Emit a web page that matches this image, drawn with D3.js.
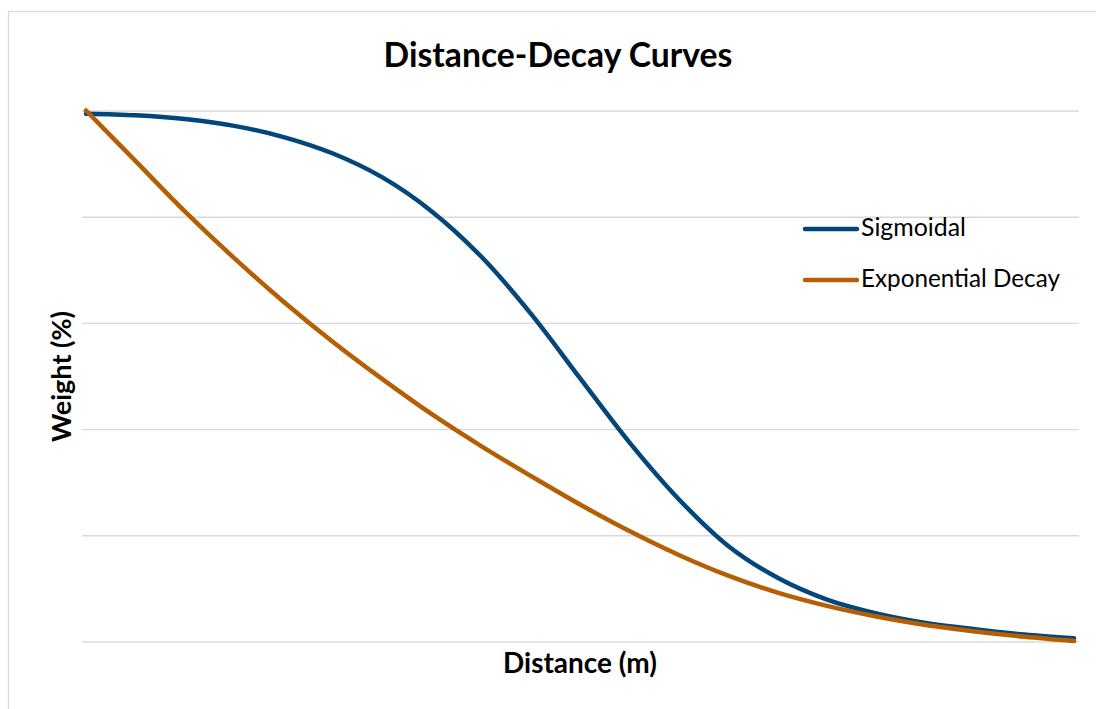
<!DOCTYPE html>
<html>
<head>
<meta charset="utf-8">
<script src="https://cdn.jsdelivr.net/npm/d3@7"></script>
<style>
  html, body { margin: 0; padding: 0; background: #fff; }
  svg { display: block; }
  text { font-family: Lato, "Open Sans", sans-serif; fill: #000; }
</style>
</head>
<body>
<svg id="chart" width="1096" height="709"></svg>
<script>
// ---- data ----
const distances = [0,5,10,15,20,25,30,35,40,45,50,55,60,65,70,75,80,85,90,95,100];
const sigmoidal = [99.4,99.1,98.4,97.1,95.0,91.9,87.4,81.0,72.5,61.8,49.6,37.5,26.8,18.0,12.0,7.9,5.3,3.5,2.3,1.3,0.6];
const exponentialDecay = [100,90.5,81.0,72.2,64.0,56.4,49.4,42.8,36.8,31.2,25.8,20.8,16.3,12.4,9.2,6.7,4.7,3.1,1.9,0.9,0.1];
const yTicks = [0,20,40,60,80,100];
const seriesNames = ["Sigmoidal", "Exponential Decay"];
const seriesColors = ["#03467a", "#b55e04"];
const titleText = "Distance-Decay Curves";
const xTitle = "Distance (m)";
const yTitle = "Weight (%)";

// ---- layout ----
const svg = d3.select("#chart");
const plotLeft = 82, plotRight = 1079, plotTop = 110.5, plotBottom = 641.5;

svg.append("rect").attr("x", 8.5).attr("y", 11.5).attr("width", 1120).attr("height", 720)
  .attr("fill", "#fff").attr("stroke", "#d9d9d9").attr("stroke-width", 1.3);

const x = d3.scaleLinear().domain(d3.extent(distances)).range([86, 1074]);
const y = d3.scaleLinear().domain([0, 100]).range([plotBottom, plotTop]);

// gridlines
const gAxis = svg.append("g").attr("transform", `translate(${plotLeft},0)`)
  .call(d3.axisLeft(y).tickValues(yTicks).tickSize(-(plotRight - plotLeft)).tickFormat(""));
gAxis.select(".domain").remove();
gAxis.selectAll(".tick line").attr("stroke", "#d9d9d9").attr("stroke-width", 1.4);

// lines
const line = d3.line().x((d, i) => x(distances[i])).y(d => y(d)).curve(d3.curveCatmullRom.alpha(0.5));
[sigmoidal, exponentialDecay].forEach((s, k) => {
  svg.append("path").datum(s).attr("d", line).attr("fill", "none")
    .attr("stroke", seriesColors[k]).attr("stroke-width", 4.5)
    .attr("stroke-linecap", "round").attr("stroke-linejoin", "round");
});

function fitText(sel, targetW) {
  const w = sel.node().getComputedTextLength();
  const fs = parseFloat(sel.attr("font-size"));
  sel.attr("font-size", (fs * targetW / w).toFixed(2));
}

// title
const t = svg.append("text").attr("x", 558).attr("y", 67).attr("text-anchor", "middle")
  .attr("font-size", 26).attr("font-weight", "bold").text(titleText);
fitText(t, 349);

// axis titles
const xt = svg.append("text").attr("x", 580).attr("y", 673).attr("text-anchor", "middle")
  .attr("font-size", 20).attr("font-weight", "bold").text(xTitle);
fitText(xt, 154);
const yt = svg.append("text").attr("transform", "translate(71,376.5) rotate(-90)").attr("text-anchor", "middle")
  .attr("font-size", 20).attr("font-weight", "bold").text(yTitle);
fitText(yt, 131);

// legend
const legendY = [229, 280];
seriesNames.forEach((name, k) => {
  svg.append("line").attr("x1", 805).attr("x2", 857).attr("y1", legendY[k]).attr("y2", legendY[k])
    .attr("stroke", seriesColors[k]).attr("stroke-width", 4.5).attr("stroke-linecap", "round");
  const lt = svg.append("text").attr("x", 861).attr("y", legendY[k] + 7).attr("font-size", 20).text(name);
  if (k === 1) fitText(lt, 199);
  else fitText(lt, 105);
});
</script>
</body>
</html>
